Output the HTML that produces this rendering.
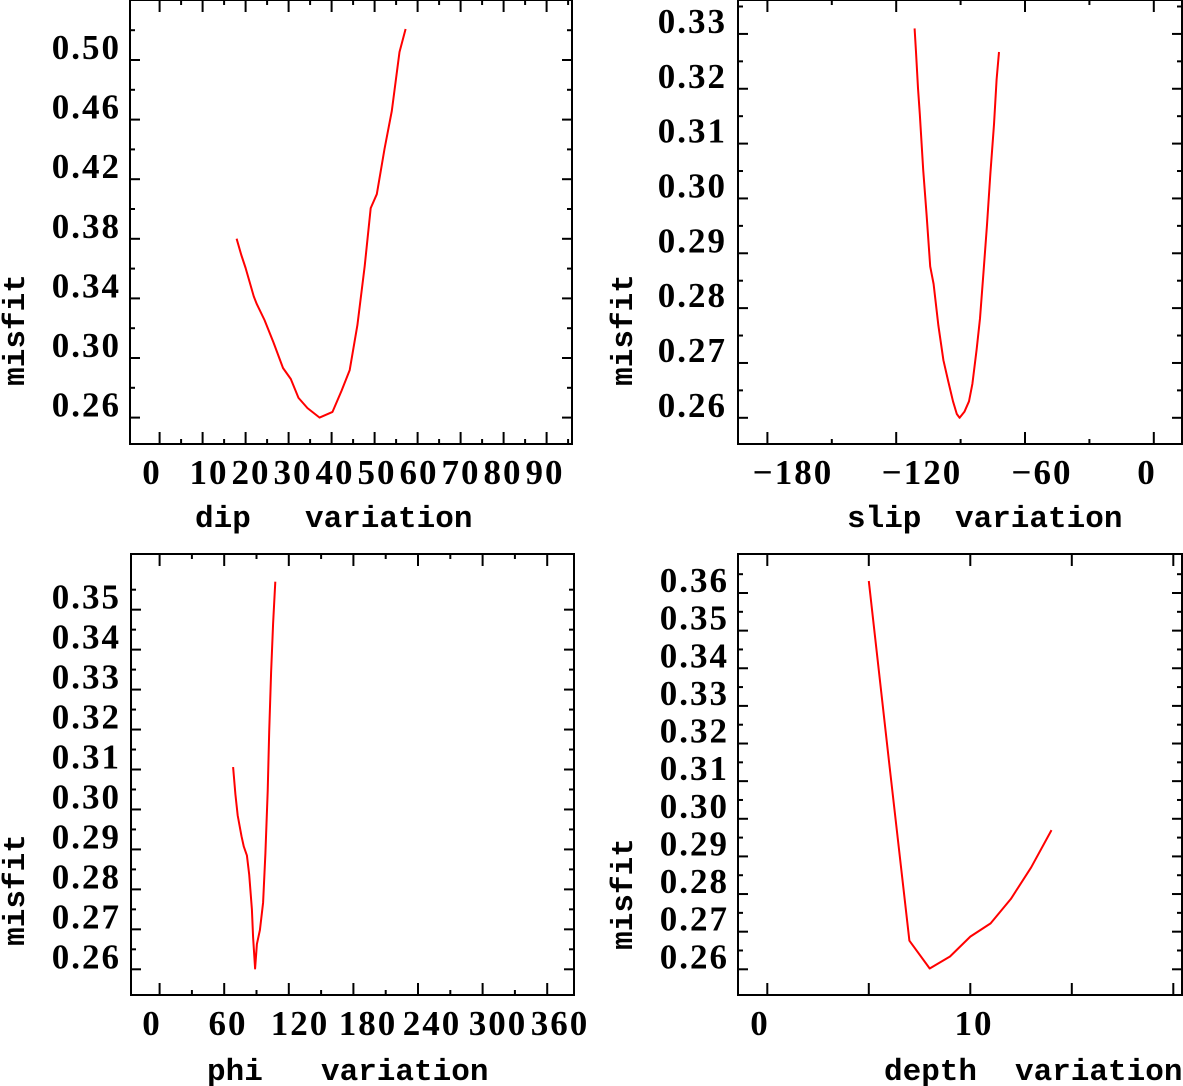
<!DOCTYPE html>
<html><head><meta charset="utf-8"><style>
html,body{margin:0;padding:0;background:#fff;}
svg{display:block;}
.tk{font-family:"Liberation Serif",serif;font-size:35px;font-weight:bold;fill:#000;letter-spacing:2px;}
.ti{font-family:"Liberation Mono",monospace;font-size:31px;font-weight:bold;fill:#000;}
</style></head><body>
<svg id="chart" width="1183" height="1086" viewBox="0 0 1183 1086" xmlns="http://www.w3.org/2000/svg"></svg>
<script>
// Data arrays
const dipX = [17.9,19.0,20.0,21.9,22.6,24.4,26.5,28.7,30.5,32.3,34.4,37.2,40.2,42.3,44.2,46.0,47.7,49.1,50.5,52.3,54.0,55.8,57.2];
const dipY = [0.3801,0.3691,0.3604,0.3413,0.3362,0.3255,0.3104,0.2933,0.2859,0.2732,0.2664,0.2600,0.2638,0.2779,0.2919,0.3221,0.3617,0.4006,0.4099,0.4403,0.4658,0.5054,0.5208];
const slipX = [-123.7,-123,-122,-121.1,-119.4,-117.7,-115.9,-114.2,-111.8,-109.3,-106.9,-104.5,-102.6,-101.2,-98.8,-96.5,-94.8,-92.7,-91,-89.3,-87.5,-85.8,-84,-82.7,-81.5];
const slipY = [0.3310,0.3267,0.3201,0.3154,0.3052,0.2970,0.2876,0.2844,0.2768,0.2705,0.2667,0.2630,0.2607,0.2600,0.2611,0.2630,0.2662,0.2724,0.2781,0.2863,0.2952,0.3046,0.3135,0.3217,0.3267];
const phiX = [68.3,70.4,72.5,76.1,78.2,81.1,83.2,85.7,86.8,88.7,90.4,93.2,96.1,98.3,100.4,101.8,103.6,105.4,107.5];
const phiY = [0.3106,0.3038,0.2985,0.2933,0.2907,0.2885,0.2837,0.2750,0.2680,0.2602,0.2663,0.2698,0.2767,0.2890,0.3046,0.3195,0.3343,0.3465,0.3570];
const depthX = [5,6,7,8,9,10,11,12,13,14];
const depthY = [0.3632,0.3150,0.2676,0.2602,0.2634,0.2687,0.2722,0.2787,0.2871,0.2970];
// Tick label arrays
const dipLabels = ["0","10","20","30","40","50","60","70","80","90"];
const dipYLabels = ["0.26","0.30","0.34","0.38","0.42","0.46","0.50"];
const slipLabels = ["\u2212180","\u2212120","\u221260","0"];
const slipYLabels = ["0.26","0.27","0.28","0.29","0.30","0.31","0.32","0.33"];
const phiLabels = ["0","60","120","180","240","300","360"];
const phiYLabels = ["0.26","0.27","0.28","0.29","0.30","0.31","0.32","0.33","0.34","0.35"];
const depthLabels = ["0","10"];
const depthYLabels = ["0.26","0.27","0.28","0.29","0.30","0.31","0.32","0.33","0.34","0.35","0.36"];

const NS="http://www.w3.org/2000/svg";
const svg=document.getElementById('chart');
function el(tag,attrs,parent){const e=document.createElementNS(NS,tag);for(const k in attrs)e.setAttribute(k,attrs[k]);(parent||svg).appendChild(e);return e;}

const panels=[
 {name:'dip',box:[130,0,572,444],sx:v=>159.6+4.3*v,sy:v=>417.6-(v-0.26)*1490,
  xt:{start:0,step:5,n:20,majorEvery:2},yt:{start:0.26,step:0.02,n:14,majorEvery:2},
  xl:dipLabels,xlPos:i=>i===0?152:167+42*i,yl:dipYLabels,ylX:121,
  xs:dipX,ys:dipY,title1:['dip',195],title2:['variation',305],titleY:527,mis:[14,330]},
 {name:'slip',box:[738,0,1182,444],sx:v=>1162+2*v,sy:v=>417.8-(v-0.26)*5484,
  xt:{start:-197.3,step:32.2,n:7,majorEvery:2},yt:{start:0.26,step:0.005,n:16,majorEvery:2},
  xl:slipLabels,xlPos:i=>[793,922,1042,1147][i],yl:slipYLabels,ylX:727,
  xs:slipX,ys:slipY,title1:['slip',847],title2:['variation',955],titleY:527,mis:[622,330]},
 {name:'phi',box:[131,554,574,995],sx:v=>159.6+1.0767*v,sy:v=>969.3-(v-0.26)*3996,
  xt:{start:0,step:30,n:13,majorEvery:2},yt:{start:0.26,step:0.005,n:20,majorEvery:2},
  xl:phiLabels,xlPos:i=>[152,228,300,368,432,498,560][i],yl:phiYLabels,ylX:121,
  xs:phiX,ys:phiY,title1:['phi',207],title2:['variation',321],titleY:1080,mis:[14,890]},
 {name:'depth',box:[738,554,1182,995],sx:v=>767.3+20.3*v,sy:v=>969.3-(v-0.26)*3763,
  xt:{start:0,step:5,n:5,majorEvery:1},yt:{start:0.26,step:0.005,n:22,majorEvery:2},
  xl:depthLabels,xlPos:i=>[760,974][i],yl:depthYLabels,ylX:729,
  xs:depthX,ys:depthY,title1:['depth',884],title2:['variation',1015],titleY:1080,mis:[622,894]}
];

panels.forEach(p=>{
  const g=el('g',{});
  
  
  const [l,t,r,b]=p.box;
  const frame=el('rect',{x:l,y:t,width:r-l,height:b-t,fill:'none',stroke:'#000','stroke-width':2},g);
  
  
  for(let i=0;i<p.xt.n;i++){
    const v=p.xt.start+i*p.xt.step;const x=p.sx(v);
    if(x<l||x>r)continue;
    const L=(i%p.xt.majorEvery===0)?12:5;
    const a=el('line',{x1:x,y1:b,x2:x,y2:b-L,stroke:'#000','stroke-width':2},g);
    
    
    const c=el('line',{x1:x,y1:t,x2:x,y2:t+L,stroke:'#000','stroke-width':2},g);
    
    
  }
  for(let i=0;i<p.yt.n;i++){
    const v=p.yt.start+i*p.yt.step;const y=p.sy(v);
    if(y<t||y>b)continue;
    const L=(i%p.yt.majorEvery===0)?10:5;
    const a=el('line',{x1:l,y1:y,x2:l+L,y2:y,stroke:'#000','stroke-width':2},g);
    
    
    const c=el('line',{x1:r,y1:y,x2:r-L,y2:y,stroke:'#000','stroke-width':2},g);
    
    
  }
  p.xl.forEach((s,i)=>{
    const tx=el('text',{x:p.xlPos(i),y:b+40,'text-anchor':'middle',class:'tk'},g);
    tx.textContent=s;
    
    
  });
  p.yl.forEach(s=>{
    const v=parseFloat(s);const y=p.sy(v);
    const tx=el('text',{x:p.ylX,y:y-1,'text-anchor':'end',class:'tk'},g);
    tx.textContent=s;
    
    
  });
  const t1=el('text',{x:p.title1[1],y:p.titleY,class:'ti'},g);
  t1.textContent=p.title1[0];
  
  
  const t2=el('text',{x:p.title2[1],y:p.titleY,class:'ti'},g);
  t2.textContent=p.title2[0];
  
  
  const m=el('text',{x:0,y:0,class:'ti','text-anchor':'middle',transform:`translate(${p.mis[0]+10},${p.mis[1]}) rotate(-90)`},g);
  m.textContent='misfit';
  
  
  const pts=p.xs.map((v,i)=>p.sx(v).toFixed(1)+','+p.sy(p.ys[i]).toFixed(1)).join(' ');
  const pl=el('polyline',{points:pts,fill:'none',stroke:'#ff0000','stroke-width':2,'stroke-linejoin':'round'},g);
  
  
});
</script>
</body></html>
